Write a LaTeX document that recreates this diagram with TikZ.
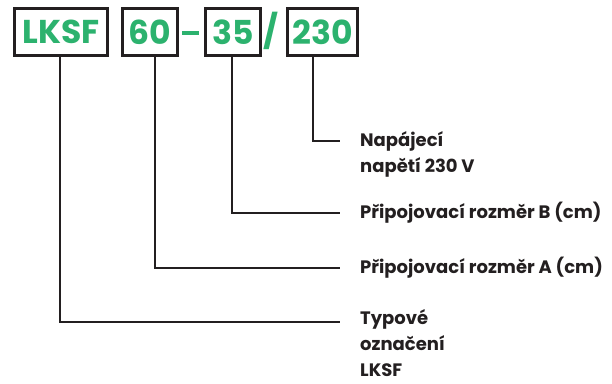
\documentclass[tikz,border=0pt]{standalone}
\usepackage{fontspec}
\setmainfont{Poppins}
\definecolor{lgreen}{RGB}{44,178,110}
\definecolor{dark}{RGB}{35,31,32}
\begin{document}
\begin{tikzpicture}[x=1pt,y=-1pt,
  codebox/.style={draw=dark,line width=2.8pt,text=lgreen,font=\fontsize{33}{33}\selectfont\bfseries,inner sep=0pt,minimum height=47pt,anchor=north west},
  sep/.style={text=lgreen,font=\fontsize{33}{33}\selectfont\bfseries,inner sep=0pt},
  lead/.style={draw=dark,line width=2.2pt},
  lab/.style={anchor=west,align=left,font=\fontsize{18}{26}\selectfont\bfseries,text=dark,inner sep=0pt}]
\useasboundingbox (0,0) rectangle (612,383);
\node[codebox,minimum width=93pt] (lksf) at (13,7) {LKSF};
\node[codebox,minimum width=55pt] (a) at (121,7) {60};
\node[sep] (dash) at (190.5,33) {\rule{17pt}{3.6pt}};
\node[codebox,minimum width=55pt] (b) at (204,7) {35};
\node[sep] (slash) at (271,31) {/};
\node[codebox,minimum width=70pt] (v) at (286,7) {230};
\node[lab] (tv) at (360,154) {Napájecí\\napětí 230 V};
\node[lab] (tb) at (360,213) {Připojovací rozměr B (cm)};
\node[lab] (ta) at (360,268) {Připojovací rozměr A (cm)};
\node[lab] (tl) at (360,343.5) {Typové\\označení\\LKSF};
\coordinate (cv) at (340,141);
\coordinate (cb) at (340,213);
\coordinate (ca) at (340,268);
\coordinate (cl) at (340,322);
\draw[lead] (v.south -| 313,0) |- (cv);
\draw[lead] (b.south -| 232,0) |- (cb);
\draw[lead] (a.south -| 155,0) |- (ca);
\draw[lead] (lksf.south -| 60,0) |- (cl);
\end{tikzpicture}
\end{document}
